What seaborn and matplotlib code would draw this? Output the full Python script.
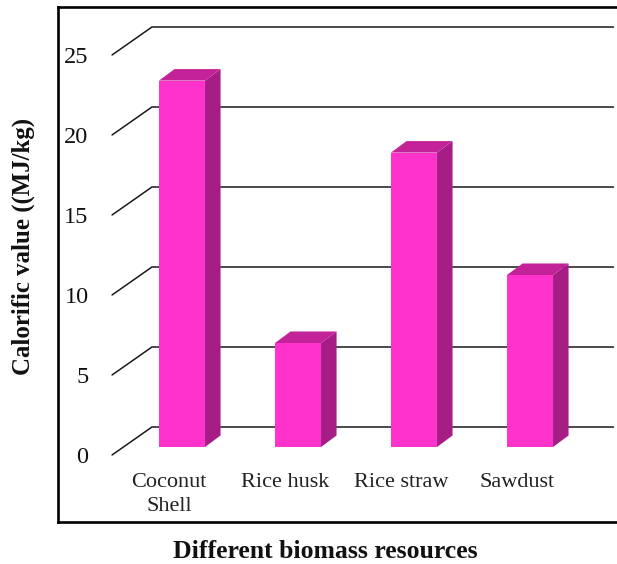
import matplotlib
matplotlib.use("Agg")
import matplotlib.pyplot as plt
from matplotlib.patches import Polygon
import seaborn as sns

# Chart data
resources = ["Coconut\nShell", "Rice husk", "Rice straw", "Sawdust"]
calorific_values = [22.9, 6.5, 18.4, 10.75]
axis_ticks = [0, 5, 10, 15, 20, 25]

# Colours of the bar faces
FRONT = "#FF33CC"
SIDE = "#A61E85"
TOP = "#C42299"
GRID = "#1a1a1a"

# Pseudo-3D depth, in data units
BAR_DX, BAR_DY = 0.134, 0.72
FLOOR_FRONT_X, FLOOR_BACK_X, GRID_END_X = -0.603, -0.259, 3.72
FLOOR_FRONT_DY, FLOOR_BACK_DY = -0.5, 1.25

sns.set_theme(style="white")
plt.rcParams["font.family"] = ["Liberation Serif", "DejaVu Serif"]

W, H = 617, 564
fig = plt.figure(figsize=(W / 100, H / 100), dpi=100, facecolor="white")
left, right, top, bottom = 58, 625, 7, 522
ax = fig.add_axes([left / W, 1 - bottom / H, (right - left) / W, (bottom - top) / H])

sns.barplot(x=resources, y=calorific_values, color=FRONT, saturation=1,
            width=0.397, linewidth=0, ax=ax, zorder=3)

# Limits chosen so one category step and one value unit have fixed lengths
ax.set_xlim((left - 182) / 116, (right - 182) / 116)
ax.set_ylim((447 - bottom) / 16, (447 - top) / 16)

# Back-wall lines with their diagonal run along the floor edge
for v in axis_ticks:
    ax.plot([FLOOR_FRONT_X, FLOOR_BACK_X, GRID_END_X],
            [v + FLOOR_FRONT_DY, v + FLOOR_BACK_DY, v + FLOOR_BACK_DY],
            color=GRID, lw=1.1, zorder=1, solid_joinstyle="miter")
    ax.text(-0.805, v + FLOOR_FRONT_DY - 0.17, str(v), ha="right", va="center",
            fontsize=17.5, color="#111111")

# Side and top faces built from each front rectangle
for bar in ax.patches[:len(resources)]:
    x0, w, h = bar.get_x(), bar.get_width(), bar.get_height()
    x1 = x0 + w
    ax.add_patch(Polygon([(x1, 0), (x1 + BAR_DX, BAR_DY), (x1 + BAR_DX, h + BAR_DY), (x1, h)],
                         closed=True, facecolor=SIDE, edgecolor="none", zorder=3))
    ax.add_patch(Polygon([(x0, h), (x0 + BAR_DX, h + BAR_DY), (x1 + BAR_DX, h + BAR_DY), (x1, h)],
                         closed=True, facecolor=TOP, edgecolor="none", zorder=3))

# Category labels sit inside the frame, under the bars
ax.set_xticks([])
ax.set_yticks([])
ax.set_xlabel("")
ax.set_ylabel("")
for i, label in enumerate(resources):
    ax.text(i - 0.11, -1.65, label, ha="center", va="top",
            fontsize=16, color="#222222", linespacing=1.3)

for name, spine in ax.spines.items():
    spine.set_color("black")
    spine.set_linewidth(1.9)
ax.spines["right"].set_visible(False)

fig.text(325 / W, 1 - 552 / H, "Different biomass resources", ha="center", va="center",
         fontsize=18.5, fontweight="bold", color="#111111")
fig.text(23 / W, 1 - 246 / H, "Calorific value ((MJ/kg)", rotation=90, ha="center", va="center",
         fontsize=17.9, fontweight="bold", color="#111111")

fig.savefig("out.png", dpi=100)
